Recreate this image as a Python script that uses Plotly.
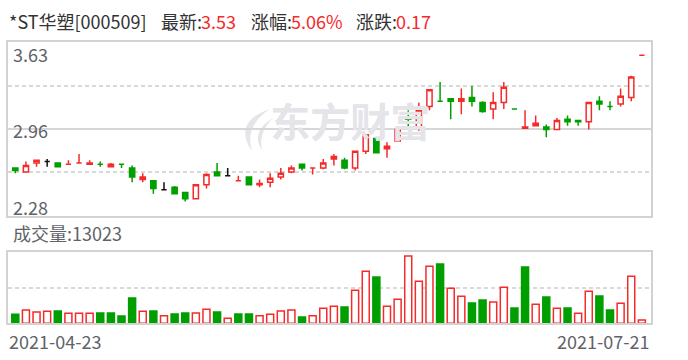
import plotly.graph_objects as go

# ---------------- data ----------------
stock_name = "*ST华塑[000509]"
date_labels = ["2021-04-23", "2021-07-21"]
price_tick_labels = ["3.63", "2.96", "2.28"]

open_ = [2.65, 2.62, 2.69, 2.70, 2.69, 2.68, 2.69, 2.68, 2.68, 2.66,
         2.68, 2.65, 2.56, 2.55, 2.48, 2.50, 2.46, 2.41, 2.52, 2.62,
         2.59, 2.55, 2.58, 2.52, 2.54, 2.58, 2.62, 2.68, 2.65, 2.65,
         2.72, 2.71, 2.65, 2.78, 2.88, 2.80, 2.86, 3.04, 2.97, 3.13,
         3.17, 3.19, 3.17, 3.20, 3.16, 3.11, 3.16, 3.11, 2.96, 2.98,
         2.97, 2.95, 3.03, 3.02, 3.01, 3.17, 3.13, 3.15, 3.20, 3.53]
high = [2.65, 2.70, 2.71, 2.72, 2.69, 2.71, 2.76, 2.71, 2.70, 2.69,
        2.68, 2.67, 2.61, 2.55, 2.54, 2.51, 2.46, 2.52, 2.61, 2.69,
        2.65, 2.59, 2.58, 2.56, 2.61, 2.65, 2.67, 2.68, 2.65, 2.72,
        2.76, 2.73, 2.78, 2.91, 2.89, 2.85, 2.96, 3.10, 3.16, 3.26,
        3.32, 3.19, 3.27, 3.29, 3.17, 3.24, 3.32, 3.11, 3.10, 3.06,
        2.99, 3.04, 3.06, 3.02, 3.16, 3.21, 3.17, 3.27, 3.37, 3.53]
low = [2.61, 2.62, 2.66, 2.66, 2.66, 2.68, 2.69, 2.68, 2.66, 2.66,
       2.65, 2.54, 2.54, 2.45, 2.48, 2.45, 2.39, 2.41, 2.49, 2.59,
       2.59, 2.55, 2.52, 2.50, 2.50, 2.56, 2.61, 2.63, 2.60, 2.64,
       2.67, 2.64, 2.63, 2.76, 2.77, 2.73, 2.86, 2.97, 2.94, 3.10,
       3.17, 3.03, 3.07, 3.13, 3.08, 3.03, 3.11, 3.11, 2.96, 2.98,
       2.89, 2.95, 2.98, 2.98, 2.95, 3.10, 3.10, 3.13, 3.17, 3.53]
close = [2.63, 2.67, 2.71, 2.70, 2.66, 2.68, 2.69, 2.69, 2.68, 2.68,
         2.68, 2.58, 2.58, 2.49, 2.48, 2.45, 2.41, 2.52, 2.60, 2.59,
         2.59, 2.55, 2.52, 2.53, 2.57, 2.61, 2.65, 2.65, 2.65, 2.69,
         2.74, 2.65, 2.78, 2.91, 2.77, 2.82, 2.95, 3.03, 3.10, 3.26,
         3.17, 3.17, 3.19, 3.17, 3.09, 3.16, 3.28, 3.11, 2.97, 3.00,
         2.95, 3.02, 3.01, 3.01, 3.16, 3.15, 3.13, 3.21, 3.36, 3.53]
candle_color = ["G", "R", "R", "K", "G", "R", "R", "R", "G", "R",
                "G", "G", "R", "G", "K", "G", "G", "R", "R", "G",
                "K", "R", "G", "R", "R", "R", "R", "G", "R", "R",
                "R", "G", "R", "R", "G", "R", "R", "G", "R", "R",
                "G", "G", "R", "G", "G", "R", "R", "G", "R", "R",
                "G", "R", "G", "G", "R", "G", "G", "R", "R", "R"]
volume = [35200, 52100, 44300, 46900, 48200, 39100, 39000, 39300, 40400, 40300,
          28700, 99000, 46900, 48200, 30000, 36500, 40400, 40400, 54700, 44300,
          19500, 36500, 36400, 30000, 35200, 48200, 52100, 24700, 30000, 58600,
          66400, 63800, 128900, 203200, 181000, 66400, 93800, 263100, 164100, 222700,
          231800, 136700, 105500, 79400, 91200, 83300, 140600, 59900, 220100, 74200,
          102900, 58600, 59900, 39100, 125000, 106800, 52100, 78100, 183600, 13023]
volume_color = ["G", "R", "R", "R", "G", "R", "R", "R", "G", "G",
                "G", "G", "R", "G", "R", "G", "G", "R", "R", "G",
                "R", "G", "G", "R", "R", "R", "R", "G", "R", "R",
                "R", "G", "R", "R", "G", "R", "R", "R", "R", "R",
                "G", "R", "R", "G", "G", "R", "R", "G", "G", "R",
                "G", "R", "G", "R", "R", "G", "G", "R", "R", "R"]

# ---------------- style ----------------
W, H = 688, 360
RED = "#f52a2a"
GREEN = "#009f00"
BLACK = "#111111"
BORDER = "#d2d2d2"
GRID = "#d6d6d6"
DASH = "#d9d9d9"
LABEL = "#5f6368"
WM = "#e4e4e9"
FONT = "Noto Sans CJK SC, Microsoft YaHei, sans-serif"

styles = {"R": (RED, "white"), "G": (GREEN, GREEN), "K": (BLACK, BLACK)}

n = len(close)
xs = list(range(n))
x_range = [-0.66, n - 1 + 0.86]
y_range = [2.28, 3.63]
v_max = 280000

PL, PR, PT, PB = 8.3, 651.0, 42.3, 215.5


def px(x):
    return x / W


def py(y):
    return 1 - y / H


def dx(x):
    return (x - PL) / (PR - PL)


def dy(y):
    return (PB - y) / (PB - PT)


price_dom = [py(PB), py(PT)]
vol_dom = [py(323.3), py(251.7)]
x_dom = [px(PL), px(PR)]

fig = go.Figure()

# watermark (drawn first so candles sit on top)
fig.add_trace(go.Scatter(
    x=[x_range[0] + (x_range[1] - x_range[0]) * 0.532],
    y=[y_range[0] + (y_range[1] - y_range[0]) * 0.51],
    mode="text", text=["东方财富"],
    textfont=dict(family=FONT, size=40, color=WM, weight="bold"),
    hoverinfo="skip", showlegend=False, xaxis="x", yaxis="y"))

for key, (lc, fc) in styles.items():
    idx = [i for i in xs if candle_color[i] == key]
    if not idx:
        continue
    st = dict(line=dict(color=lc, width=1.5), fillcolor=fc)
    fig.add_trace(go.Candlestick(
        x=idx,
        open=[open_[i] for i in idx], high=[high[i] for i in idx],
        low=[low[i] for i in idx], close=[close[i] for i in idx],
        increasing=st, decreasing=st, whiskerwidth=0,
        hoverinfo="skip", showlegend=False, xaxis="x", yaxis="y"))

for key in ["R", "G"]:
    lc, fc = styles[key]
    idx = [i for i in xs if volume_color[i] == key]
    fig.add_trace(go.Bar(
        x=idx, y=[volume[i] for i in idx], width=0.66,
        marker=dict(color=fc, line=dict(color=lc, width=1.5)),
        hoverinfo="skip", showlegend=False, xaxis="x2", yaxis="y2"))

axis_common = dict(showline=True, mirror=True, linecolor=BORDER, linewidth=1.5,
                   zeroline=False, showticklabels=False, ticks="", fixedrange=True)

# watermark logo (two swoosh strokes), drawn beneath the candles
def swoosh(pts):
    (x0, y0), (cx1, cy1), (x1, y1), (cx2, cy2) = pts
    return (f"M {dx(x0):.4f},{dy(y0):.4f} Q {dx(cx1):.4f},{dy(cy1):.4f} {dx(x1):.4f},{dy(y1):.4f} "
            f"Q {dx(cx2):.4f},{dy(cy2):.4f} {dx(x0):.4f},{dy(y0):.4f} Z")


logo_shapes = [
    dict(type="path", xref="x domain", yref="y domain", layer="below",
         path=swoosh([(270, 109), (232, 122), (252, 151), (244, 126)]),
         fillcolor=WM, line=dict(width=0)),
    dict(type="path", xref="x domain", yref="y domain", layer="below",
         path=swoosh([(273, 118), (250, 132), (262, 150), (258, 132)]),
         fillcolor=WM, line=dict(width=0)),
]

fig.update_layout(
    width=W, height=H, margin=dict(l=0, r=0, t=0, b=0),
    paper_bgcolor="white", plot_bgcolor="rgba(0,0,0,0)",
    barmode="overlay", showlegend=False, shapes=logo_shapes,
    xaxis=dict(domain=x_dom, range=x_range, anchor="y", showgrid=False,
               rangeslider=dict(visible=False), **axis_common),
    yaxis=dict(domain=price_dom, range=y_range, anchor="x",
               tickmode="array", tickvals=[(y_range[0] + y_range[1]) / 2],
               showgrid=True, gridcolor=GRID, gridwidth=1.5,
               minor=dict(tickmode="array",
                          tickvals=[y_range[0] + (y_range[1] - y_range[0]) * 0.25,
                                    y_range[0] + (y_range[1] - y_range[0]) * 0.75],
                          showgrid=True, gridcolor=DASH, gridwidth=1.5,
                          griddash="4px,3px", ticks=""),
               **axis_common),
    xaxis2=dict(domain=x_dom, range=x_range, anchor="y2", showgrid=False, **axis_common),
    yaxis2=dict(domain=vol_dom, range=[0, v_max], anchor="x2",
                tickmode="array", tickvals=[v_max / 2], showgrid=True,
                gridcolor=DASH, gridwidth=1.5, griddash="4px,3px", **axis_common),
)

latest = close[-1]
chg = close[-1] - close[-2]
pct = chg / close[-2] * 100

ann = []


def add_text(text, x, y, color, xanchor="left", size=18):
    ann.append(dict(text=text, x=px(x), y=py(y), xref="paper", yref="paper",
                    xanchor=xanchor, yanchor="middle", showarrow=False,
                    font=dict(family=FONT, size=size, color=color)))


# header
add_text(stock_name, 7, 20.5, "#333333")
add_text("最新:", 159, 20.5, "#333333")
add_text(f"{latest:.2f}", 199, 20.5, RED)
add_text("涨幅:", 249, 20.5, "#333333")
add_text(f"{pct:.2f}%", 289, 20.5, RED)
add_text("涨跌:", 354, 20.5, "#333333")
add_text(f"{chg:.2f}", 394, 20.5, RED)

# price labels inside the plot
for lab, yy in zip(price_tick_labels, [53.5, 130, 206.5]):
    add_text(lab, 10.5, yy, LABEL)

add_text(f"成交量:{volume[-1]}", 10.5, 232.5, LABEL)
add_text(date_labels[0], 7, 340.5, LABEL)
add_text(date_labels[1], 651, 340.5, LABEL, xanchor="right")

fig.update_layout(annotations=ann)

fig.write_html(
    "out.html",
    config={"displayModeBar": False},
    post_script="document.body.style.margin='0';document.body.style.padding='0';"
                "document.body.style.overflow='hidden';",
)
